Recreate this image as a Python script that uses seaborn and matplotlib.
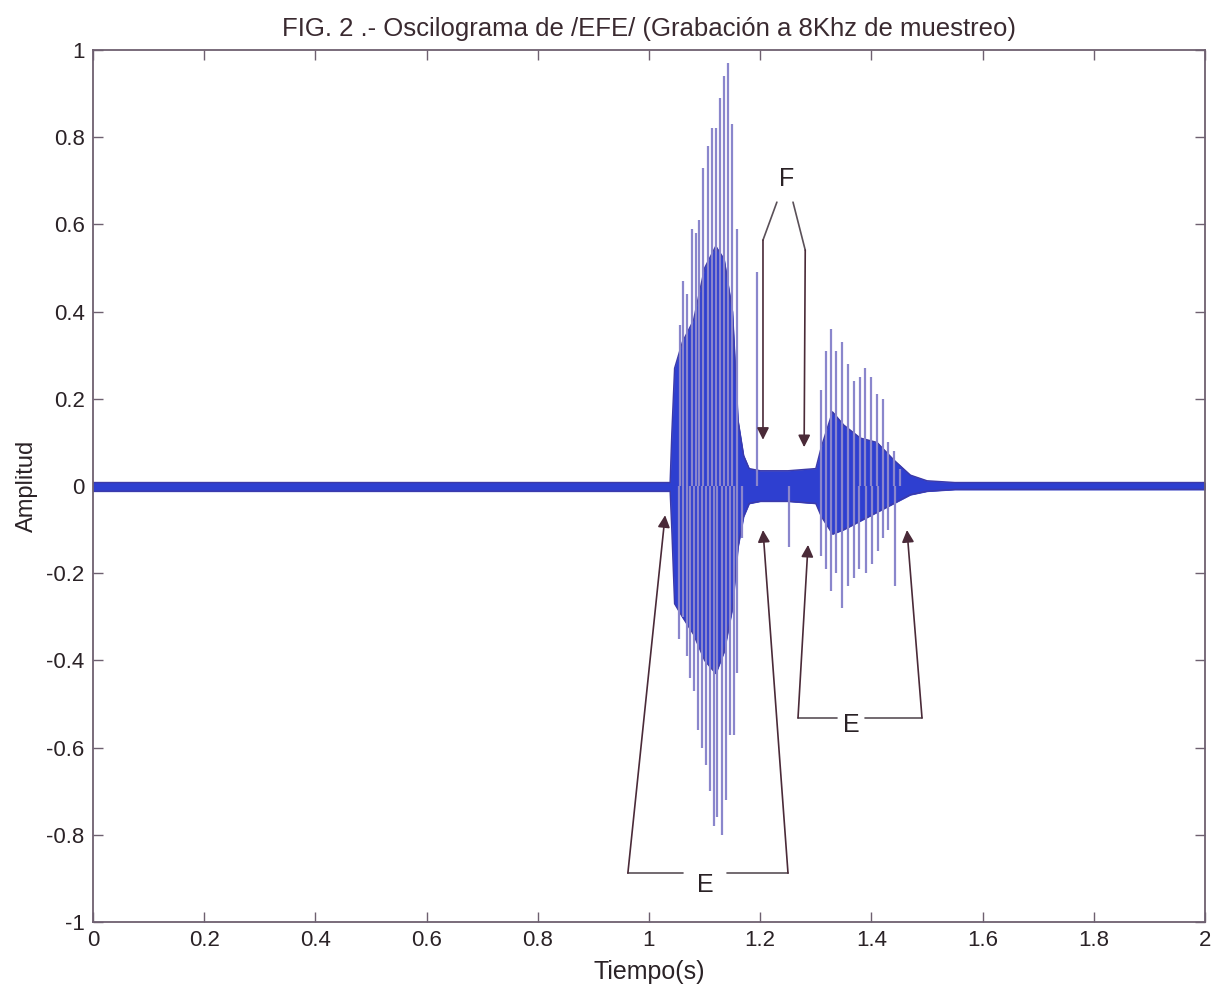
import numpy as np
import pandas as pd
import matplotlib
matplotlib.use("Agg")
import matplotlib.pyplot as plt
import seaborn as sns

# envelope of the dense part of the waveform (time in s, amplitude)
env_t = [0.0, 0.25, 0.5, 0.75, 1.0, 1.038, 1.041, 1.046, 1.06, 1.08, 1.10, 1.12, 1.135,
         1.15, 1.16, 1.17, 1.18, 1.20, 1.25, 1.30, 1.31, 1.33, 1.35, 1.38, 1.41, 1.44,
         1.47, 1.50, 1.55, 1.8, 2.0]
env_hi = [0.008, 0.008, 0.008, 0.008, 0.008, 0.008, 0.12, 0.27, 0.33, 0.38, 0.50, 0.55, 0.52,
          0.40, 0.15, 0.07, 0.04, 0.035, 0.035, 0.04, 0.09, 0.17, 0.14, 0.11, 0.10, 0.06,
          0.025, 0.012, 0.008, 0.008, 0.008]
env_lo = [-0.012, -0.012, -0.012, -0.012, -0.012, -0.012, -0.10, -0.27, -0.30, -0.34, -0.40,
          -0.43, -0.38, -0.28, -0.14, -0.07, -0.04, -0.035, -0.035, -0.04, -0.07, -0.11,
          -0.10, -0.08, -0.06, -0.04, -0.02, -0.012, -0.008, -0.008, -0.008]

# positive glottal pulses
up_t = [1.056, 1.061, 1.069, 1.077, 1.085, 1.090, 1.097, 1.106, 1.113, 1.121, 1.128, 1.135,
        1.142, 1.149, 1.158, 1.194,
        1.309, 1.318, 1.327, 1.336, 1.347, 1.358, 1.369, 1.379, 1.388, 1.399, 1.410, 1.421,
        1.430, 1.441, 1.451]
up_a = [0.37, 0.47, 0.44, 0.59, 0.58, 0.61, 0.73, 0.78, 0.82, 0.82, 0.89, 0.94,
        0.97, 0.83, 0.59, 0.49,
        0.22, 0.31, 0.36, 0.31, 0.33, 0.28, 0.24, 0.25, 0.27, 0.25, 0.21, 0.20,
        0.10, 0.08, 0.04]

# negative glottal pulses
dn_t = [1.054, 1.061, 1.068, 1.074, 1.081, 1.088, 1.095, 1.103, 1.110, 1.117, 1.122, 1.131,
        1.138, 1.146, 1.153, 1.158, 1.167, 1.251,
        1.310, 1.319, 1.327, 1.336, 1.347, 1.358, 1.369, 1.378, 1.390, 1.401, 1.412, 1.421,
        1.430, 1.442]
dn_a = [-0.35, -0.30, -0.39, -0.44, -0.47, -0.56, -0.60, -0.64, -0.70, -0.78, -0.76, -0.80,
        -0.72, -0.57, -0.57, -0.43, -0.12, -0.14,
        -0.16, -0.19, -0.24, -0.20, -0.28, -0.23, -0.21, -0.19, -0.20, -0.18, -0.15, -0.12,
        -0.10, -0.23]

xticks = [0, 0.2, 0.4, 0.6, 0.8, 1, 1.2, 1.4, 1.6, 1.8, 2]
yticks = [-1, -0.8, -0.6, -0.4, -0.2, 0, 0.2, 0.4, 0.6, 0.8, 1]

sns.set_style("white")
plt.rcParams['font.family'] = ['Liberation Sans', 'DejaVu Sans']

wave_col = '#2e3fd0'
spike_col = '#8a86cc'
ann_col = '#4a2a38'
frame_col = '#6e6070'
text_col = '#2a2226'

fig = plt.figure(figsize=(12.15, 9.88), dpi=100)
ax = fig.add_axes([0.0765, 0.0668, 0.9153, 0.8826])

env = pd.DataFrame({'t': env_t, 'hi': env_hi, 'lo': env_lo})
ax.fill_between(env['t'], env['lo'], env['hi'], color=wave_col, lw=0.6, zorder=2)
sns.lineplot(x='t', y='hi', data=env, color='#3c3aa8', lw=1, ax=ax, zorder=2)
sns.lineplot(x='t', y='lo', data=env, color='#3c3aa8', lw=1, ax=ax, zorder=2)

ax.vlines(up_t, 0, up_a, color=spike_col, lw=1.6, zorder=3)
ax.vlines(dn_t, 0, dn_a, color=spike_col, lw=1.6, zorder=3)

ax.set_xlim(0, 2)
ax.set_ylim(-1, 1)
ax.set_xticks(xticks)
ax.set_yticks(yticks)
ax.set_xticklabels(['%g' % v for v in xticks])
ax.set_yticklabels(['%g' % v for v in yticks])
ax.tick_params(direction='in', length=7, width=1, colors=frame_col, labelcolor=text_col,
               labelsize=16, top=True, right=True, bottom=True, left=True, pad=6)
for s in ax.spines.values():
    s.set_color(frame_col)
    s.set_linewidth(1.3)

ax.set_xlabel('Tiempo(s)', fontsize=18, color=text_col, labelpad=6)
ax.set_ylabel('Amplitud', fontsize=17, color=text_col, labelpad=6)
ax.set_title('FIG. 2 .- Oscilograma de /EFE/ (Grabación a 8Khz de muestreo)',
             fontsize=18.5, color='#3a2a30', pad=10)

arrow = dict(arrowstyle='-|>', mutation_scale=18, color=ann_col, lw=1.2,
             shrinkA=0, shrinkB=0)


def bracket(label_xy, left, right, left_tip, right_tip, gap):
    lx, ly = label_xy
    ax.plot([left[0], lx - gap], [left[1], left[1]], color='#5a5058', lw=1.2, zorder=4)
    ax.plot([lx + gap, right[0]], [right[1], right[1]], color='#5a5058', lw=1.2, zorder=4)
    ax.annotate('', xy=left_tip, xytext=left, arrowprops=arrow, zorder=5)
    ax.annotate('', xy=right_tip, xytext=right, arrowprops=arrow, zorder=5)
    ax.text(lx, ly, 'E', fontsize=18, color=text_col, ha='center', va='center')


bracket((1.101, -0.915), (0.962, -0.888), (1.250, -0.888), (1.029, -0.067),
        (1.205, -0.101), 0.04)
bracket((1.363, -0.548), (1.268, -0.532), (1.491, -0.532), (1.286, -0.135),
        (1.464, -0.101), 0.025)

# F annotation
ax.text(1.248, 0.705, 'F', fontsize=18, color=text_col, ha='center', va='center')
ax.plot([1.230, 1.205], [0.651, 0.564], color='#5a5058', lw=1.2, zorder=4)
ax.plot([1.259, 1.281], [0.651, 0.541], color='#5a5058', lw=1.2, zorder=4)
ax.annotate('', xy=(1.205, 0.106), xytext=(1.205, 0.564), arrowprops=arrow, zorder=5)
ax.annotate('', xy=(1.279, 0.089), xytext=(1.281, 0.541), arrowprops=arrow, zorder=5)

fig.savefig('out.png', dpi=100)
